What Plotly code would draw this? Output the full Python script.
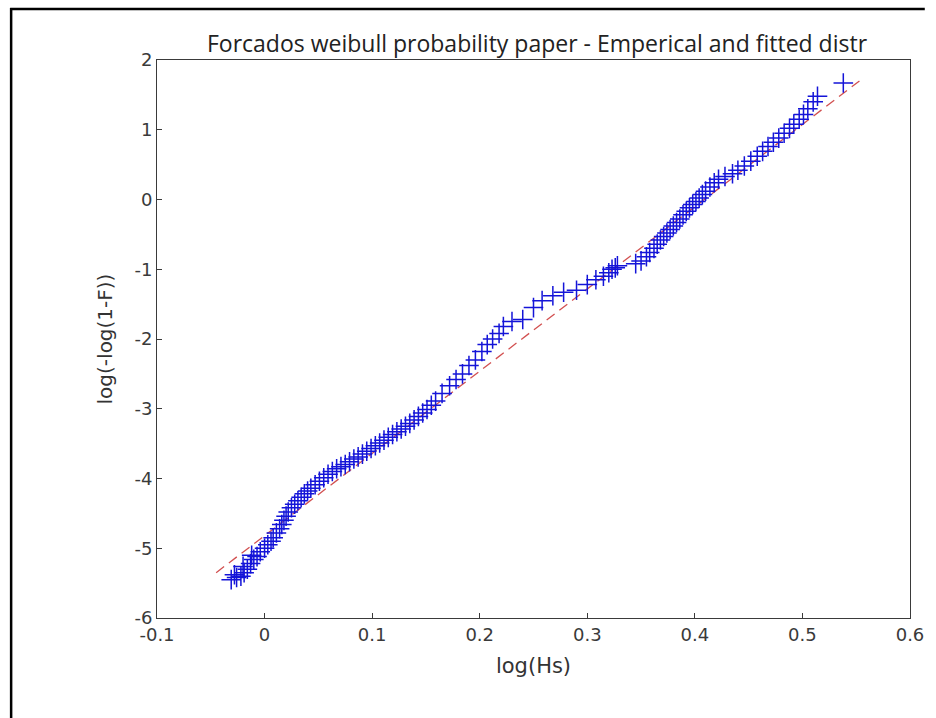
import plotly.graph_objects as go

# Empirical points (log(Hs), log(-log(1-F)))
emp_x = [-0.031, -0.026, -0.022, -0.028, -0.019, -0.016, -0.020, -0.013, -0.010, -0.007, -0.012, -0.004, 0.000,
         0.003, 0.006, 0.008, 0.011, 0.014, 0.016, 0.018, 0.020, 0.022, 0.025, 0.028, 0.031, 0.034, 0.037,
         0.040, 0.043, 0.047, 0.051, 0.055, 0.059, 0.063, 0.067, 0.071, 0.075, 0.079, 0.083, 0.087, 0.091,
         0.095, 0.099, 0.103, 0.107, 0.111, 0.115, 0.119, 0.123, 0.127, 0.131, 0.135, 0.139, 0.143, 0.147, 0.151, 0.155, 0.159,
         0.165, 0.172, 0.178, 0.184, 0.190, 0.196, 0.202, 0.207, 0.212, 0.218, 0.222, 0.230, 0.240,
         0.250, 0.258, 0.268, 0.278, 0.290, 0.300, 0.308, 0.315, 0.320, 0.323, 0.326, 0.328, 0.345, 0.350, 0.355,
         0.358, 0.362, 0.365, 0.368, 0.371, 0.374, 0.377, 0.380, 0.383, 0.386, 0.389, 0.392, 0.395, 0.398, 0.401,
         0.404, 0.407, 0.410, 0.414, 0.418, 0.422,
         0.428, 0.435, 0.440, 0.446, 0.452, 0.458, 0.463, 0.468, 0.473, 0.478, 0.483, 0.488, 0.492, 0.497, 0.501,
         0.505, 0.510, 0.514, 0.538]
emp_y = [-5.45, -5.42, -5.40, -5.38, -5.35, -5.30, -5.26, -5.22, -5.16, -5.12, -5.10, -5.05, -5.00,
         -4.95, -4.90, -4.85, -4.78, -4.72, -4.66, -4.60, -4.54, -4.48, -4.42, -4.37, -4.32, -4.27, -4.22,
         -4.18, -4.14, -4.09, -4.04, -3.99, -3.94, -3.90, -3.86, -3.83, -3.80, -3.76, -3.72, -3.69, -3.65,
         -3.61, -3.57, -3.53, -3.49, -3.45, -3.41, -3.37, -3.33, -3.29, -3.25, -3.21, -3.16, -3.11, -3.06, -3.01, -2.95, -2.89,
         -2.78, -2.67, -2.58, -2.50, -2.38, -2.30, -2.18, -2.08, -2.00, -1.92, -1.82, -1.75, -1.72,
         -1.55, -1.45, -1.38, -1.33, -1.30, -1.22, -1.15, -1.10, -1.05, -1.00, -0.98, -0.95, -0.92, -0.88, -0.82,
         -0.76, -0.70, -0.64, -0.58, -0.53, -0.48, -0.43, -0.38, -0.33, -0.28, -0.22, -0.17, -0.12, -0.07, -0.03,
         0.02, 0.07, 0.12, 0.18, 0.24, 0.29,
         0.33, 0.37, 0.42, 0.48, 0.55, 0.62, 0.69, 0.76, 0.82, 0.88, 0.95, 1.02, 1.08, 1.15, 1.22,
         1.30, 1.40, 1.48, 1.67]

# Fitted distribution line
fit_x = [-0.045, 0.553]
fit_y = [-5.35, 1.70]

x_ticks = [-0.1, 0, 0.1, 0.2, 0.3, 0.4, 0.5, 0.6]
x_ticktext = ["-0.1", "0", "0.1", "0.2", "0.3", "0.4", "0.5", "0.6"]
y_ticks = [-6, -5, -4, -3, -2, -1, 0, 1, 2]
y_ticktext = ["-6", "-5", "-4", "-3", "-2", "-1", "0", "1", "2"]

TFONT = "Open Sans"
AFONT = "DejaVu Sans"

fig = go.Figure()
fig.add_trace(go.Scatter(x=fit_x, y=fit_y, mode="lines",
                         line=dict(color="rgb(210,80,80)", width=1.3, dash="10px,6px"),
                         showlegend=False))
fig.add_trace(go.Scatter(x=emp_x, y=emp_y, mode="markers",
                         marker=dict(symbol="cross-thin", size=14,
                                     line=dict(color="#1414d8", width=1.5)),
                         showlegend=False))

axis_common = dict(showgrid=False, zeroline=False, showline=True, linecolor="#3a3a3a",
                   linewidth=1, mirror=True, ticks="inside", ticklen=5, tickcolor="#3a3a3a",
                   tickfont=dict(family=AFONT, size=18, color="#3a3a3a"))

fig.update_xaxes(range=[-0.1, 0.6], tickvals=x_ticks, ticktext=x_ticktext,
                 title=dict(text="log(Hs)", font=dict(family=AFONT, size=21, color="#333333"), standoff=14),
                 **axis_common)
fig.update_yaxes(range=[-6, 2], tickvals=y_ticks, ticktext=y_ticktext,
                 title=dict(text="log(-log(1-F))", font=dict(family=AFONT, size=20, color="#333333"), standoff=16),
                 **axis_common)

fig.update_layout(
    width=936, height=718,
    margin=dict(l=157, r=15, t=60, b=100),
    plot_bgcolor="white", paper_bgcolor="white",
    title=dict(text="Forcados weibull probability paper - Emperical and fitted distr",
               x=(537) / 936, xanchor="center", y=1 - 44 / 718, yanchor="middle",
               font=dict(family=TFONT, size=23, color="#222222")),
    shapes=[
        dict(type="line", xref="paper", yref="paper", x0=(8 - 157) / 764, x1=(936 - 157) / 764,
             y0=(618 - 9) / 558, y1=(618 - 9) / 558, line=dict(color="black", width=2.5)),
        dict(type="line", xref="paper", yref="paper", x0=(9 - 157) / 764, x1=(9 - 157) / 764,
             y0=(618 - 8) / 558, y1=(618 - 718) / 558, line=dict(color="black", width=2.5)),
    ],
)

fig.write_html("out.html", config={"displayModeBar": False})
